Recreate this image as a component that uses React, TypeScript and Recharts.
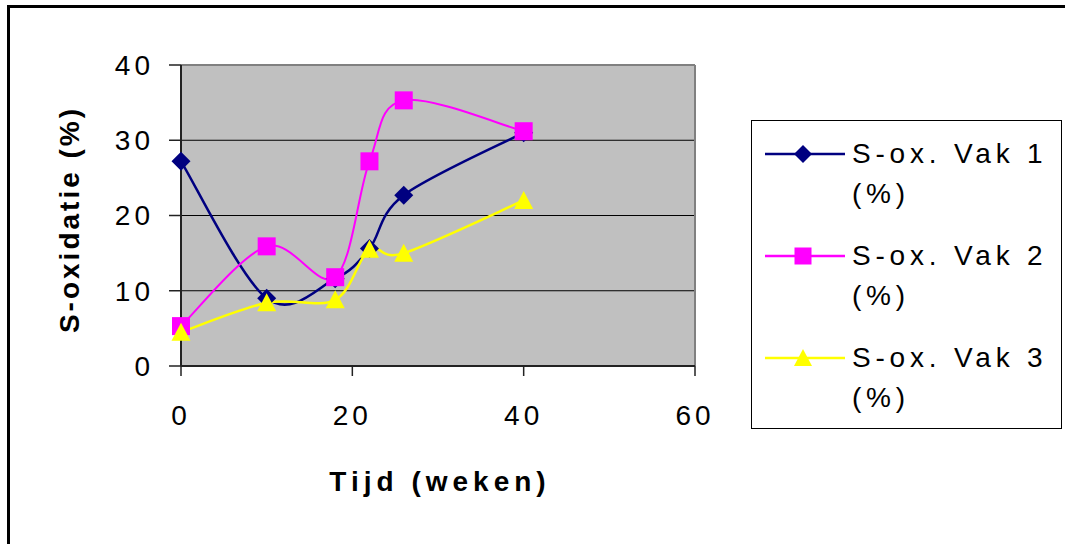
import React from 'react';
import {
  LineChart,
  Line,
  XAxis,
  YAxis,
  CartesianGrid,
  ReferenceLine,
  Legend,
} from 'recharts';

// weeks since start, and S-oxidation (%) per plot
const weeks = [0, 10, 18, 22, 26, 40];
const vak1 = [27.2, 9.0, 11.6, 15.6, 22.7, 31.0];
const vak2 = [5.3, 15.9, 11.8, 27.2, 35.3, 31.2];
const vak3 = [4.5, 8.4, 8.8, 15.5, 15.0, 22.0];

const xTicks = [0, 20, 40, 60];
const yTicks = [0, 10, 20, 30, 40];
const gridValues = [10, 20, 30];

const seriesNames = ['S-ox. Vak 1', 'S-ox. Vak 2', 'S-ox. Vak 3'];
const seriesKeys = ['vak1', 'vak2', 'vak3'];
const seriesColors = ['#000080', '#FF00FF', '#FFFF00'];
const seriesShapes = ['diamond', 'square', 'triangle'];
const seriesWidths = [2.5, 2, 2.5];

const data = weeks.map((w, i) => ({
  week: w,
  vak1: vak1[i],
  vak2: vak2[i],
  vak3: vak3[i],
}));

const FONT = '"Liberation Sans", Arial, sans-serif';

// smoothed line like the old spreadsheet charts (Catmull-Rom through the points)
const smoothCurve = (context: any) => {
  let pts: number[][] = [];
  return {
    areaStart() {},
    areaEnd() {},
    lineStart() {
      pts = [];
    },
    point(x: number, y: number) {
      pts.push([+x, +y]);
    },
    lineEnd() {
      if (!pts.length) return;
      context.moveTo(pts[0][0], pts[0][1]);
      for (let i = 0; i < pts.length - 1; i++) {
        const p0 = pts[i - 1] || pts[i];
        const p1 = pts[i];
        const p2 = pts[i + 1];
        const p3 = pts[i + 2] || p2;
        context.bezierCurveTo(
          p1[0] + (p2[0] - p0[0]) / 6,
          p1[1] + (p2[1] - p0[1]) / 6,
          p2[0] - (p3[0] - p1[0]) / 6,
          p2[1] - (p3[1] - p1[1]) / 6,
          p2[0],
          p2[1]
        );
      }
    },
  };
};

const MarkerShape = ({ cx, cy, shape, color, r = 9.5 }: any) => {
  if (cx == null || cy == null) return null;
  if (shape === 'diamond') {
    return (
      <polygon
        points={`${cx},${cy - r} ${cx + r},${cy} ${cx},${cy + r} ${cx - r},${cy}`}
        fill={color}
      />
    );
  }
  if (shape === 'square') {
    return <rect x={cx - r + 0.5} y={cy - r + 0.5} width={2 * r - 1} height={2 * r - 1} fill={color} />;
  }
  return (
    <polygon
      points={`${cx},${cy - r} ${cx + r},${cy + r - 1} ${cx - r},${cy + r - 1}`}
      fill={color}
    />
  );
};

const LegendBox = () => (
  <div
    style={{
      width: 309,
      height: 294,
      border: '1px solid #000',
      background: '#fff',
      boxSizing: 'content-box',
      paddingTop: 13,
      fontFamily: FONT,
      fontSize: 28,
      letterSpacing: 4.8,
      color: '#000',
    }}
  >
    {seriesNames.map((name, i) => (
      <div key={name} style={{ display: 'flex', height: 102 }}>
        <svg width={80} height={40} style={{ marginLeft: 13, flexShrink: 0 }}>
          <line x1={0} y1={20} x2={80} y2={20} stroke={seriesColors[i]} strokeWidth={2.5} />
          <MarkerShape cx={38} cy={20} shape={seriesShapes[i]} color={seriesColors[i]} r={9} />
        </svg>
        <div style={{ marginLeft: 7, lineHeight: '40px', whiteSpace: 'nowrap' }}>
          <div>{name}</div>
          <div>(%)</div>
        </div>
      </div>
    ))}
  </div>
);

const YTitle = ({ viewBox }: any) => (
  <text
    x={69}
    y={viewBox.y + viewBox.height / 2 + 4}
    transform={`rotate(-90, 69, ${viewBox.y + viewBox.height / 2 + 4})`}
    textAnchor="middle"
    dominantBaseline="central"
    fontFamily={FONT}
    fontWeight="bold"
    fontSize={28}
    letterSpacing={3}
    fill="#000"
  >
    S-oxidatie (%)
  </text>
);

const XTitle = ({ viewBox }: any) => (
  <text
    x={viewBox.x + viewBox.width / 2 + 2}
    y={481}
    textAnchor="middle"
    dominantBaseline="central"
    fontFamily={FONT}
    fontWeight="bold"
    fontSize={28}
    letterSpacing={5}
    fill="#000"
  >
    Tijd (weken)
  </text>
);

const tickStyle = { fill: '#000', fontSize: 28, fontFamily: FONT, letterSpacing: 4 };

export default function App() {
  return (
    <div style={{ position: 'absolute', left: 0, top: 0, width: 1065, height: 544, background: '#fff' }}>
      <div
        style={{
          position: 'absolute',
          left: 7,
          top: 5,
          right: 0,
          bottom: 0,
          borderTop: '3px solid #000',
          borderLeft: '3px solid #000',
        }}
      />
      <LineChart
        width={1065}
        height={544}
        data={data}
        margin={{ top: 65, right: 370, left: 41, bottom: 58 }}
        style={{ position: 'absolute', left: 0, top: 0 }}
      >
        <CartesianGrid
          vertical={false}
          horizontalValues={gridValues}
          stroke="#000"
          strokeWidth={1}
          fill="#C0C0C0"
          fillOpacity={1}
        />
        <XAxis
          dataKey="week"
          type="number"
          domain={[0, 60]}
          ticks={xTicks}
          interval={0}
          height={120}
          tickSize={10}
          tickMargin={29}
          tick={tickStyle}
          axisLine={{ stroke: '#222', strokeWidth: 2 }}
          tickLine={{ stroke: '#222', strokeWidth: 1.5 }}
          label={<XTitle />}
        />
        <YAxis
          type="number"
          domain={[0, 40]}
          ticks={yTicks}
          interval={0}
          width={140}
          tickSize={12}
          tickMargin={15}
          tick={tickStyle}
          axisLine={{ stroke: '#222', strokeWidth: 2 }}
          tickLine={{ stroke: '#222', strokeWidth: 1.5 }}
          label={<YTitle />}
        />
        <ReferenceLine y={40} stroke="#808080" strokeWidth={2} />
        <ReferenceLine x={60} stroke="#808080" strokeWidth={2} />
        {seriesKeys.map((key, i) => (
          <Line
            key={key}
            dataKey={key}
            name={seriesNames[i]}
            type={smoothCurve as any}
            stroke={seriesColors[i]}
            strokeWidth={seriesWidths[i]}
            isAnimationActive={false}
            dot={(p: any) => (
              <MarkerShape
                key={`${key}-${p.index}`}
                cx={p.cx}
                cy={p.cy}
                shape={seriesShapes[i]}
                color={seriesColors[i]}
              />
            )}
            activeDot={false}
          />
        ))}
        <Legend
          layout="vertical"
          align="center"
          verticalAlign="middle"
          content={<LegendBox />}
          wrapperStyle={{ position: 'absolute', left: 751, top: 120, width: 311, height: 309 }}
        />
      </LineChart>
    </div>
  );
}
